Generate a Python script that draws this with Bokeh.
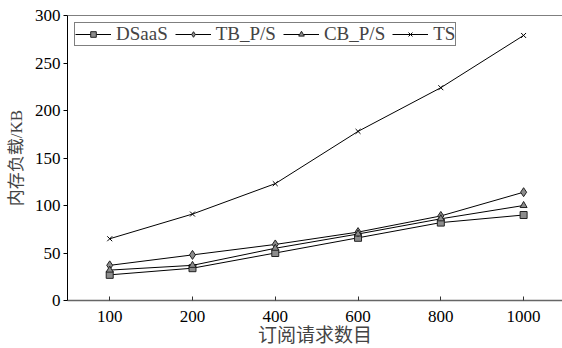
from bokeh.plotting import figure
from bokeh.models import Range1d, FixedTicker, Legend, LegendItem, Span
from bokeh.embed import file_html
from bokeh.resources import INLINE

categories = ["100", "200", "400", "600", "800", "1000"]
dsaas = [27, 34, 50, 66, 82, 90]
tb_ps = [37, 48, 59, 72, 89, 114]
cb_ps = [32, 37, 55, 70, 86, 100]
ts = [65, 91, 123, 178, 224, 279]
y_ticks = [0, 50, 100, 150, 200, 250, 300]
x_title = "订阅请求数目"
y_title = "内存负载/KB"

xs = list(range(1, len(categories) + 1))

SERIF = "'Liberation Serif', 'Noto Sans CJK SC'"

x0, x1 = 0.49, 6.47
p = figure(width=562, height=348, output_backend="svg", toolbar_location=None,
           x_range=Range1d(x0, x1), y_range=Range1d(y_ticks[0], y_ticks[-1]),
           min_border_left=67, min_border_top=15, min_border_right=0, min_border_bottom=48)
p.outline_line_color = None
p.grid.visible = False
p.background_fill_color = "white"

xa = p.xaxis[0]
xa.ticker = FixedTicker(ticks=xs)
xa.major_label_overrides = {i: c for i, c in zip(xs, categories)}
xa.major_tick_in = 4
xa.major_tick_out = 0
xa.minor_tick_line_color = None
xa.axis_line_color = "#666666"
xa.axis_line_width = 1.5
xa.major_tick_line_color = "#333333"
xa.major_label_standoff = 10
xa.major_label_text_font = SERIF
xa.major_label_text_font_size = "17px"
xa.major_label_text_color = "black"
xa.axis_label = x_title
xa.axis_label_text_font = SERIF
xa.axis_label_text_font_size = "19px"
xa.axis_label_text_font_style = "normal"
xa.axis_label_standoff = 0

ya = p.yaxis[0]
ya.ticker = FixedTicker(ticks=y_ticks)
ya.major_tick_in = 0
ya.major_tick_out = 4
ya.minor_tick_line_color = None
ya.axis_line_color = "black"
ya.major_label_standoff = 3
ya.major_label_text_font = SERIF
ya.major_label_text_font_size = "17px"
ya.major_label_text_color = "black"
ya.axis_label = y_title
ya.axis_label_text_font = SERIF
ya.axis_label_text_font_size = "17px"
ya.axis_label_text_font_style = "normal"
ya.axis_label_standoff = 6

# top border of the frame (no right border visible in the reference)
p.add_layout(Span(location=y_ticks[-1], dimension="width", line_color="black", line_width=1.2))

series = [
    ("DSaaS", dsaas, "square"),
    ("TB_P/S", tb_ps, "diamond"),
    ("CB_P/S", cb_ps, "triangle"),
    ("TS", ts, "x"),
]

items = []
for name, vals, marker in series:
    ln = p.line(xs, vals, line_color="black", line_width=1)
    if marker == "x":
        mk = p.scatter(xs, vals, marker="x", size=7, line_color="black", line_width=1)
    else:
        sz = 9 if marker == "diamond" else 7
        mk = p.scatter(xs, vals, marker=marker, size=sz, fill_color="#8c8c8c",
                       line_color="#222222", line_width=1)
    items.append(LegendItem(label=name, renderers=[ln, mk]))

legend = Legend(items=items, orientation="horizontal", location="top_left",
                margin=7, padding=0, spacing=7, label_standoff=5,
                glyph_width=36, glyph_height=14,
                label_text_font=SERIF, label_text_font_size="19px",
                label_height=17,
                border_line_color="black", border_line_width=1,
                background_fill_alpha=1)
p.add_layout(legend, "center")

open("out.html", "w").write(file_html(p, INLINE))
